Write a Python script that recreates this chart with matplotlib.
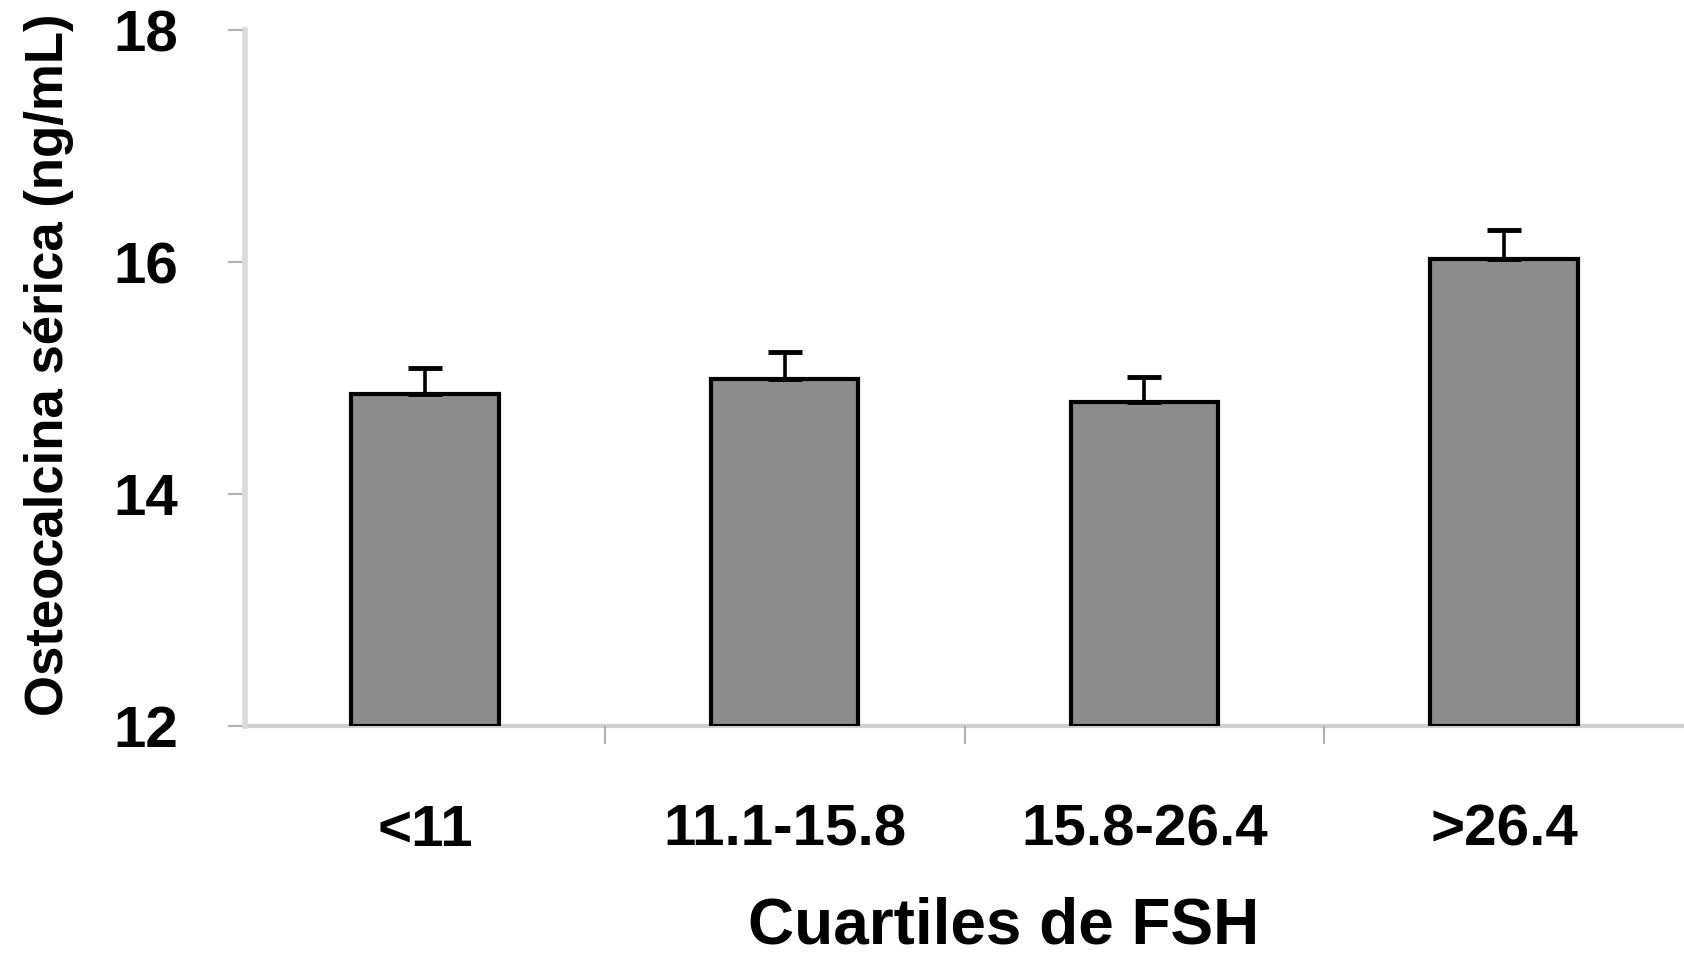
import numpy as np
import matplotlib
matplotlib.use("Agg")
import matplotlib.pyplot as plt

# 数据
categories = ["<11", "11.1-15.8", "15.8-26.4", ">26.4"]
means = [14.86, 14.99, 14.79, 16.03]
errors = [0.23, 0.23, 0.22, 0.25]
yticks = [12, 14, 16, 18]

plt.rcParams["font.family"] = ["Liberation Sans", "DejaVu Sans"]
plt.rcParams["font.weight"] = "bold"

fig = plt.figure(figsize=(16.84, 9.56), dpi=100)
ax = fig.add_axes([245 / 1684, 1 - 726 / 956, 1 - 245 / 1684, (726 - 30) / 956])

x = np.arange(len(categories))
base = yticks[0]
heights = [m - base for m in means]
ax.bar(x, heights, bottom=base, width=0.41, color="#8c8c8c",
       edgecolor="black", linewidth=3, zorder=2)
ax.errorbar(x, means, yerr=[np.zeros(len(errors)), errors], fmt="none",
            ecolor="black", elinewidth=2.6, capsize=12.5, capthick=3.5, zorder=3)

ax.set_xlim(-0.5, len(categories) - 0.5)
ax.set_ylim(12, 18)
ax.set_yticks(yticks)
ax.set_yticklabels([str(t) for t in yticks], fontsize=42, fontweight="bold")
ax.set_xticks(x)
ax.set_xticklabels(categories, fontsize=42, fontweight="bold")
ax.set_xticks(np.arange(0.5, len(categories) - 0.5, 1.0), minor=True)

ax.tick_params(axis="x", which="major", length=0, pad=56)
ax.tick_params(axis="x", which="minor", length=13, width=1.5, color="#b0b0b0")
ax.tick_params(axis="y", which="major", length=12, width=1.5, color="#b0b0b0", pad=36)

for s in ["top", "right"]:
    ax.spines[s].set_visible(False)
ax.spines["left"].set_color("#dadada")
ax.spines["left"].set_linewidth(4)
ax.spines["bottom"].set_color("#cfcfcf")
ax.spines["bottom"].set_linewidth(3)
ax.spines["bottom"].set_zorder(1)

ax.set_ylabel("Osteocalcina sérica (ng/mL)", fontsize=38, fontweight="bold")
ax.yaxis.set_label_coords(-0.119, 0.519)
ax.set_xlabel("Cuartiles de FSH", fontsize=46, fontweight="bold")
ax.xaxis.set_label_coords(0.527, -0.245)

fig.savefig("out.png", dpi=100)
